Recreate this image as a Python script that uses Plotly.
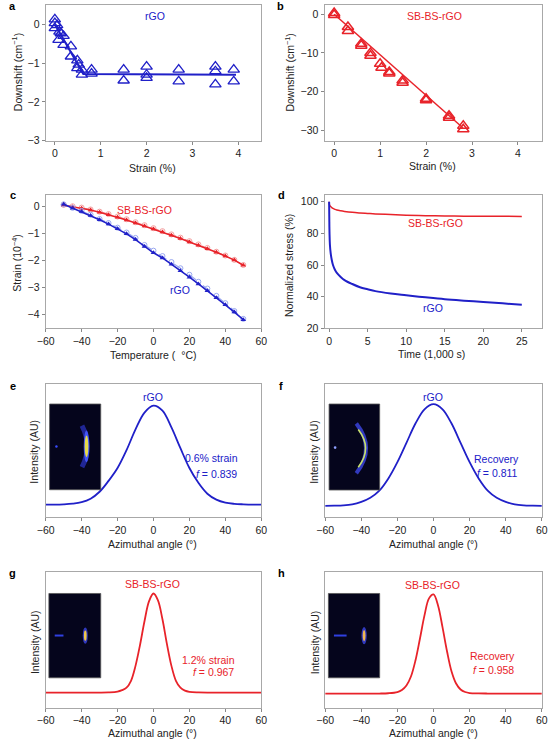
import plotly.graph_objects as go

W, H = 553, 745
BLUE = "#2020c8"
LBLUE = "#9aa8f0"
RED = "#e8232a"
LRED = "#f4a0a0"
FONT = "Liberation Sans, Arial, Helvetica, sans-serif"

# ---------------- data ----------------
# a: rGO Raman downshift vs strain
a_strain = [0, 0, 0, 0.05, 0.1, 0.13, 0.08, 0.19, 0.19, 0.35, 0.35, 0.49, 0.49, 0.52, 0.59, 0.59,
            0.8, 0.8, 1.5, 1.5, 2.0, 2.0, 2.0, 2.7, 2.7, 3.5, 3.5, 3.5, 3.9, 3.9]
a_shift = [0.13, 0.03, -0.1, -0.02, -0.19, -0.23, -0.4, -0.3, -0.53, -0.57, -0.83, -0.93, -1.13, -1.04, -1.17, -1.3,
           -1.17, -1.27, -1.17, -1.45, -1.09, -1.3, -1.38, -1.17, -1.47, -1.09, -1.21, -1.55, -1.17, -1.47]
a_fit_x = [0, 0.62, 3.95]
a_fit_y = [0, -1.28, -1.30]

# b: SB-BS-rGO
b_strain = [0, 0, 0.3, 0.3, 0.59, 0.59, 0.79, 0.79, 1.0, 1.03, 1.2, 1.2, 1.49, 1.49, 2.0, 2.0, 2.5, 2.5, 2.81, 2.81]
b_shift = [0.3, -0.2, -3.3, -4.3, -7.6, -8.1, -10.0, -10.7, -12.8, -13.8, -14.9, -15.3, -17.1, -17.7,
           -21.8, -22.2, -26.2, -26.7, -28.8, -29.7]
b_fit_x = [0, 2.8]
b_fit_y = [0, -29.3]

# c: thermal strain
c_temp = [-50, -45, -40, -35, -30, -25, -20, -15, -10, -5, 0, 5, 10, 15, 20, 25, 30, 35, 40, 45, 50]
c_sb_heat = [0.05, -0.01, -0.06, -0.13, -0.21, -0.3, -0.4, -0.5, -0.61, -0.72, -0.83, -0.94, -1.06, -1.18,
             -1.31, -1.43, -1.56, -1.69, -1.83, -1.98, -2.17]
c_sb_cool = [0.06, 0.01, -0.04, -0.11, -0.19, -0.28, -0.37, -0.47, -0.58, -0.69, -0.8, -0.91, -1.03, -1.15,
             -1.28, -1.4, -1.53, -1.67, -1.81, -1.97, -2.16]
c_rgo_heat = [0.08, -0.06, -0.18, -0.33, -0.49, -0.65, -0.82, -1.01, -1.22, -1.48, -1.71, -1.9, -2.13, -2.37,
              -2.61, -2.86, -3.11, -3.37, -3.63, -3.9, -4.18]
c_rgo_cool = [0.08, -0.05, -0.16, -0.3, -0.46, -0.61, -0.78, -0.96, -1.16, -1.42, -1.63, -1.83, -2.05, -2.28,
              -2.52, -2.78, -3.03, -3.3, -3.57, -3.86, -4.15]

# d: stress relaxation
d_time = [0, 0.02, 0.05, 0.1, 0.2, 0.35, 0.5, 0.75, 1, 1.5, 2, 3, 4, 5, 6, 8, 10, 12.5, 15, 17.5, 20, 22.5, 25]
d_rgo = [100, 90, 80, 73, 67.5, 63, 60, 57, 55, 52.5, 50.5, 48, 46, 44.7, 43.5, 42, 40.9, 39.6, 38.4, 37.5,
         36.7, 35.8, 34.9]
d_sb = [100, 99, 98, 97.5, 97, 96.3, 95.8, 95.2, 94.8, 94.3, 93.9, 93.3, 92.9, 92.6, 92.3, 91.9, 91.5, 91.2,
        91.0, 90.9, 90.8, 90.8, 90.7]

# e-h: azimuthal intensity profiles (normalized)
ang_wide = [-60, -55, -50, -45, -40, -35, -30, -25, -20, -15, -10, -5, 0, 5, 10, 15, 20, 25, 30, 35, 40, 45, 50, 55, 60]
e_int = [0.0, 0.0, 0.003, 0.01, 0.025, 0.06, 0.13, 0.24, 0.37, 0.55, 0.76, 0.93, 1.0, 0.95, 0.78, 0.57, 0.37,
         0.22, 0.11, 0.05, 0.02, 0.008, 0.003, 0.0, 0.0]
f_int = [0.0, 0.002, 0.005, 0.015, 0.04, 0.08, 0.15, 0.27, 0.43, 0.62, 0.81, 0.95, 1.0, 0.95, 0.81, 0.62, 0.43,
         0.27, 0.15, 0.08, 0.04, 0.015, 0.005, 0.002, 0.0]
ang_narrow = [-60, -40, -30, -25, -20, -17.5, -15, -12.5, -10, -7.5, -5, -2.5, 0, 2.5, 5, 7.5, 10, 12.5, 15,
              17.5, 20, 25, 30, 40, 60]
g_int = [0, 0, 0, 0.002, 0.01, 0.025, 0.05, 0.12, 0.27, 0.48, 0.72, 0.92, 1.0, 0.93, 0.74, 0.49, 0.27, 0.12,
         0.05, 0.02, 0.008, 0.002, 0, 0, 0]
h_int = [0, 0, 0, 0.003, 0.015, 0.035, 0.08, 0.17, 0.33, 0.55, 0.78, 0.95, 0.99, 0.88, 0.66, 0.42, 0.22, 0.1,
         0.04, 0.015, 0.005, 0.001, 0, 0, 0]

# ---------------- layout helpers ----------------
def px_x(x):
    return x / W

def px_y(y):
    return 1 - y / H

panels = {
    # name: (x0, x1, y0, y1) in pixels
    "a": (37.7, 259.3, 5, 141.7),
    "b": (324.3, 547.7, 5, 141.7),
    "c": (37.7, 259.3, 197, 331),
    "d": (324.3, 547.7, 197, 331),
    "e": (37.7, 259.3, 387, 521.7),
    "f": (325, 547.7, 387, 521.7),
    "g": (37.7, 259.3, 577, 713.3),
    "h": (325, 547.7, 577, 713.3),
}
order = ["a", "b", "c", "d", "e", "f", "g", "h"]

fig = go.Figure()
layout = dict(width=W, height=H, margin=dict(l=0, r=0, t=0, b=0), paper_bgcolor="white",
              plot_bgcolor="white", showlegend=False, font=dict(family=FONT, size=10.5, color="#222"))

axis_common = dict(showline=True, linecolor="#a8a8a8", linewidth=1, mirror=True, showgrid=False,
                   zeroline=False, ticks="outside", ticklen=3, tickcolor="#888", tickwidth=1,
                   tickfont=dict(family=FONT, size=10.5, color="#222"))

ranges = {
    "a": ([-0.2, 4.5], [-3, 0.5], [0, 1, 2, 3, 4], [-3, -2, -1, 0]),
    "b": ([-0.21, 4.52], [-32.6, 2.4], [0, 1, 2, 3, 4], [-30, -20, -10, 0]),
    "c": ([-60, 60], [-4.5, 0.41], [-60, -40, -20, 0, 20, 40, 60], [-4, -3, -2, -1, 0]),
    "d": ([-0.6, 27.6], [20, 104], [0, 5, 10, 15, 20, 25], [20, 40, 60, 80, 100]),
    "e": ([-60, 60], [-0.13, 1.22], [-60, -40, -20, 0, 20, 40, 60], None),
    "f": ([-60, 60], [-0.114, 1.2], [-60, -40, -20, 0, 20, 40, 60], None),
    "g": ([-60, 60], [-0.15, 1.213], [-60, -40, -20, 0, 20, 40, 60], None),
    "h": ([-60, 60], [-0.14, 1.21], [-60, -40, -20, 0, 20, 40, 60], None),
}

def tick_text(vals):
    return [("\u2212" + str(abs(v))) if v < 0 else str(v) for v in vals]

for i, name in enumerate(order, start=1):
    x0, x1, y0, y1 = panels[name]
    xr, yr, xt, yt = ranges[name]
    xa = dict(axis_common, domain=[px_x(x0), px_x(x1)], range=xr, anchor="y%d" % i,
              tickvals=xt, ticktext=tick_text(xt))
    ya = dict(axis_common, domain=[px_y(y1), px_y(y0)], range=yr, anchor="x%d" % i)
    if yt is None:
        ya.update(showticklabels=False, ticks="")
    else:
        ya.update(tickvals=yt, ticktext=tick_text(yt))
    layout["xaxis%d" % i] = xa
    layout["yaxis%d" % i] = ya

def ax(name):
    i = order.index(name) + 1
    return dict(xaxis="x%d" % i, yaxis="y%d" % i)

# ---------------- traces ----------------
fig.add_trace(go.Scatter(x=a_fit_x, y=a_fit_y, mode="lines", line=dict(color=BLUE, width=2), **ax("a")))
fig.add_trace(go.Scatter(x=a_strain, y=a_shift, mode="markers",
                         marker=dict(symbol="triangle-up-open", size=10, color=BLUE, line=dict(width=1.3, color=BLUE)),
                         **ax("a")))
fig.add_trace(go.Scatter(x=b_fit_x, y=b_fit_y, mode="lines", line=dict(color=RED, width=1.5), **ax("b")))
fig.add_trace(go.Scatter(x=b_strain, y=b_shift, mode="markers",
                         marker=dict(symbol="triangle-up-open", size=10, color=RED, line=dict(width=1.5, color=RED)),
                         **ax("b")))

fig.add_trace(go.Scatter(x=c_temp, y=c_sb_cool, mode="lines+markers",
                         line=dict(color=LRED, width=1.2, dash="dash"),
                         marker=dict(symbol="circle-open", size=5, color=LRED), **ax("c")))
fig.add_trace(go.Scatter(x=c_temp, y=c_sb_heat, mode="lines+markers", line=dict(color=RED, width=1.6),
                         marker=dict(symbol="triangle-up", size=5, color=RED), **ax("c")))
fig.add_trace(go.Scatter(x=c_temp, y=c_rgo_cool, mode="lines+markers",
                         line=dict(color=LBLUE, width=1.2, dash="dash"),
                         marker=dict(symbol="circle-open", size=5, color=LBLUE), **ax("c")))
fig.add_trace(go.Scatter(x=c_temp, y=c_rgo_heat, mode="lines+markers", line=dict(color=BLUE, width=1.6),
                         marker=dict(symbol="triangle-up", size=5, color=BLUE), **ax("c")))

fig.add_trace(go.Scatter(x=d_time, y=d_sb, mode="lines", line=dict(color=RED, width=1.5, shape="spline"), **ax("d")))
fig.add_trace(go.Scatter(x=d_time, y=d_rgo, mode="lines", line=dict(color=BLUE, width=2, shape="spline"), **ax("d")))

fig.add_trace(go.Scatter(x=ang_wide, y=e_int, mode="lines", line=dict(color=BLUE, width=1.8, shape="spline"), **ax("e")))
fig.add_trace(go.Scatter(x=ang_wide, y=f_int, mode="lines", line=dict(color=BLUE, width=1.8, shape="spline"), **ax("f")))
fig.add_trace(go.Scatter(x=ang_narrow, y=g_int, mode="lines", line=dict(color=RED, width=1.8, shape="spline"), **ax("g")))
fig.add_trace(go.Scatter(x=ang_narrow, y=h_int, mode="lines", line=dict(color=RED, width=1.8, shape="spline"), **ax("h")))

# ---------------- annotations ----------------
ann = []

def text(t, x, y, color="#222", size=10.5, angle=0, bold=False, xanchor="center"):
    if bold:
        t = "<b>" + t + "</b>"
    ann.append(dict(text=t, x=px_x(x), y=px_y(y), xref="paper", yref="paper", showarrow=False,
                    xanchor=xanchor, yanchor="middle", textangle=angle,
                    font=dict(family=FONT, size=size, color=color)))

# panel letters
for letter, (x, y) in {"a": (4, 6), "b": (279, 6), "c": (4, 197), "d": (280, 197),
                       "e": (4, 389), "f": (280, 389), "g": (4, 578), "h": (280, 578)}.items():
    text(letter, x, y, color="#000", size=11, bold=True)

# axis titles
text("Downshift (cm<sup>\u22121</sup>)", 8, 73, angle=-90)
text("Strain (%)", 148, 169)
text("Downshift (cm<sup>\u22121</sup>)", 288, 73, angle=-90)
text("Strain (%)", 435, 167)
text("Strain (10<sup>\u22124</sup>)", 8, 265, angle=-90)
text("Temperature (  \u00b0C)", 148, 358)
text("Normalized stress (%)", 288, 268, angle=-90)
text("Time (1,000 s)", 434, 357)
for (yx, yy, xx, xy) in [(26, 455, 148, 548), (314, 455, 436, 548), (26, 647, 148, 739), (314, 647, 436, 739)]:
    text("Intensity (AU)", yx, yy, angle=-90)
    text("Azimuthal angle (\u00b0)", xx, xy)

# in-plot labels
text("rGO", 150, 16, color=BLUE)
text("SB-BS-rGO", 437, 16, color=RED)
text("SB-BS-rGO", 139, 212, color=RED)
text("rGO", 176, 292, color=BLUE)
text("SB-BS-rGO", 438, 225, color=RED)
text("rGO", 436, 311, color=BLUE)
text("rGO", 148, 400, color=BLUE)
text("0.6% strain", 208, 462, color=BLUE)
text("<i>f</i> = 0.839", 213, 478, color=BLUE)
text("rGO", 436, 400, color=BLUE)
text("Recovery", 501, 463, color=BLUE)
text("<i>f</i> = 0.811", 502, 477, color=BLUE)
text("SB-BS-rGO", 148, 589, color=RED)
text("1.2% strain", 205, 665, color=RED)
text("<i>f</i> = 0.967", 210, 677, color=RED)
text("SB-BS-rGO", 435, 590, color=RED)
text("Recovery", 497, 661, color=RED)
text("<i>f</i> = 0.958", 498, 675, color=RED)

layout["annotations"] = ann

# ---------------- inset diffraction images (drawn as shapes) ----------------
shapes = []

def rect(x0, y0, x1, y1, fill, line=None):
    shapes.append(dict(type="rect", xref="paper", yref="paper", x0=px_x(x0), x1=px_x(x1),
                       y0=px_y(y1), y1=px_y(y0), fillcolor=fill,
                       line=dict(width=0.8 if line else 0, color=line or fill)))

def ellipse(x0, y0, x1, y1, fill):
    shapes.append(dict(type="circle", xref="paper", yref="paper", x0=px_x(x0), x1=px_x(x1),
                       y0=px_y(y1), y1=px_y(y0), fillcolor=fill, line=dict(width=0)))

def path(pts, color, width):
    (sx, sy), (cx, cy), (ex, ey) = pts
    d = "M %f,%f Q %f,%f %f,%f" % (px_x(sx), px_y(sy), px_x(cx), px_y(cy), px_x(ex), px_y(ey))
    shapes.append(dict(type="path", xref="paper", yref="paper", path=d, line=dict(color=color, width=width)))

def hline(x0, x1, y, color, width):
    shapes.append(dict(type="line", xref="paper", yref="paper", x0=px_x(x0), x1=px_x(x1),
                       y0=px_y(y), y1=px_y(y), line=dict(color=color, width=width)))

BG = "#05051c"
# e
rect(41.7, 407.3, 94.3, 493.7, BG, "#555")
path([(75, 429), (86, 450), (75, 471)], "rgba(50,60,230,0.6)", 5)
ellipse(76.8, 434, 82.5, 466, "rgba(70,90,255,0.9)")
ellipse(77.8, 439, 81.6, 461, "#e6dc4a")
ellipse(47.5, 448.8, 50, 451.3, "#3a4cff")
# f
rect(329, 407.3, 381, 494, BG, "#555")
path([(357, 427), (377, 452), (357, 477)], "rgba(60,70,230,0.8)", 4)
path([(359, 433), (374, 452), (359, 471)], "#c8e06a", 1.6)
ellipse(333.8, 449.8, 336.6, 452.6, "#8fa0ff")
# g
rect(41, 598.3, 94.3, 683.3, BG, "#555")
hline(47, 56, 640.7, "#3040e0", 2)
ellipse(75.8, 632.5, 81, 649, "rgba(60,70,230,0.8)")
ellipse(77, 635.5, 79.8, 646, "#f0c84a")
# h
rect(328.3, 598.3, 381, 683.3, BG, "#555")
hline(334, 347, 640.7, "#3040e0", 2)
ellipse(362.3, 632, 367.7, 649.5, "rgba(60,70,230,0.8)")
ellipse(363.6, 635, 366.4, 646.5, "#f0b850")

layout["shapes"] = shapes
fig.update_layout(**layout)
fig.write_html("out.html", config={"displayModeBar": False},
               post_script="document.body.style.margin='0';document.body.style.overflow='hidden';")
